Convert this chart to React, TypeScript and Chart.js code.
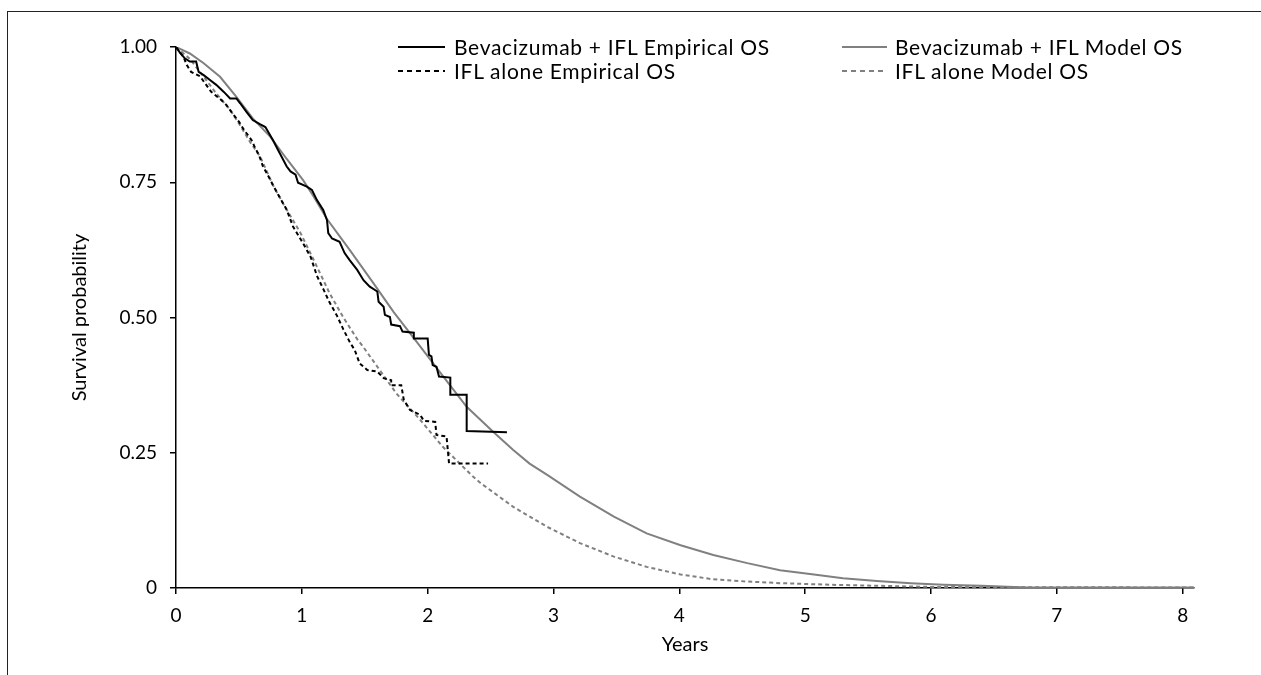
import React, { useEffect, useRef } from "react";
import { Chart, registerables } from "chart.js";

Chart.register(...registerables);

const FONT = "Lato, 'Open Sans', sans-serif";
const FONT_SIZE = 19;
const TITLE_SIZE = 20;
const LEGEND_SIZE = 21;

// Axis ticks
const xTicks = [0, 1, 2, 3, 4, 5, 6, 7, 8];
const yTicks = [0, 0.25, 0.5, 0.75, 1];
const yTickLabels = ["0", "0.25", "0.50", "0.75", "1.00"];
const xMax = 8.09;

// Series labels
const seriesLabels = [
  "Bevacizumab + IFL Empirical OS",
  "IFL alone Empirical OS",
  "Bevacizumab + IFL Model OS",
  "IFL alone Model OS",
];

// Bevacizumab + IFL empirical OS (years, survival)
const bevEmpT = [0, 0.03, 0.07, 0.11, 0.16, 0.18, 0.22, 0.27, 0.32, 0.38, 0.43, 0.48, 0.51, 0.56, 0.61, 0.67, 0.71, 0.77, 0.81, 0.88, 0.91, 0.95, 0.97, 1.04, 1.08, 1.12, 1.17, 1.2, 1.21, 1.24, 1.3, 1.34, 1.38, 1.44, 1.49, 1.54, 1.6, 1.61, 1.65, 1.66, 1.7, 1.71, 1.78, 1.8, 1.89, 1.89, 2.0, 2.01, 2.03, 2.04, 2.07, 2.09, 2.18, 2.18, 2.31, 2.31, 2.63];
const bevEmpS = [1, 0.99, 0.979, 0.973, 0.973, 0.954, 0.948, 0.939, 0.93, 0.917, 0.905, 0.905, 0.896, 0.88, 0.865, 0.857, 0.852, 0.828, 0.81, 0.779, 0.77, 0.764, 0.749, 0.742, 0.736, 0.717, 0.699, 0.68, 0.656, 0.646, 0.64, 0.619, 0.606, 0.588, 0.569, 0.557, 0.548, 0.529, 0.52, 0.505, 0.501, 0.487, 0.484, 0.474, 0.472, 0.461, 0.461, 0.431, 0.428, 0.412, 0.409, 0.391, 0.389, 0.357, 0.357, 0.29, 0.288];

// IFL alone empirical OS
const iflEmpT = [0, 0.03, 0.06, 0.085, 0.12, 0.19, 0.24, 0.28, 0.35, 0.4, 0.44, 0.5, 0.54, 0.6, 0.63, 0.66, 0.69, 0.73, 0.77, 0.81, 0.88, 0.93, 1.01, 1.07, 1.12, 1.17, 1.22, 1.28, 1.33, 1.38, 1.42, 1.46, 1.52, 1.6, 1.65, 1.71, 1.71, 1.79, 1.81, 1.86, 1.94, 1.97, 2.06, 2.07, 2.15, 2.17, 2.48];
const iflEmpS = [1, 0.99, 0.982, 0.967, 0.954, 0.946, 0.93, 0.917, 0.904, 0.893, 0.88, 0.862, 0.847, 0.828, 0.813, 0.8, 0.78, 0.763, 0.745, 0.728, 0.699, 0.668, 0.637, 0.612, 0.577, 0.553, 0.528, 0.503, 0.478, 0.455, 0.44, 0.415, 0.403, 0.4, 0.388, 0.384, 0.375, 0.375, 0.348, 0.329, 0.32, 0.309, 0.307, 0.283, 0.28, 0.23, 0.23];

// Bevacizumab + IFL model OS
const bevModT = [0, 0.11, 0.22, 0.35, 0.48, 0.61, 0.75, 0.88, 1.01, 1.09, 1.2, 1.38, 1.57, 1.73, 1.89, 2.1, 2.31, 2.52, 2.68, 2.81, 2.95, 3.21, 3.48, 3.74, 4.01, 4.27, 4.54, 4.8, 5.07, 5.3, 5.57, 5.84, 6.1, 6.4, 6.66, 6.78, 8.09];
const bevModS = [1, 0.988, 0.97, 0.945, 0.908, 0.868, 0.834, 0.793, 0.754, 0.725, 0.682, 0.625, 0.563, 0.51, 0.462, 0.398, 0.335, 0.289, 0.255, 0.23, 0.209, 0.169, 0.132, 0.101, 0.079, 0.061, 0.046, 0.033, 0.025, 0.018, 0.013, 0.009, 0.006, 0.004, 0.002, 0.001, 0.001];

// IFL alone model OS
const iflModT = [0, 0.11, 0.23, 0.32, 0.43, 0.51, 0.59, 0.67, 0.77, 0.85, 0.99, 1.12, 1.22, 1.33, 1.44, 1.49, 1.6, 1.75, 1.94, 2.12, 2.36, 2.42, 2.68, 2.95, 3.21, 3.48, 3.74, 4.01, 4.27, 4.54, 4.8, 5.2, 5.6, 6.0, 6.5, 8.09];
const iflModS = [1, 0.978, 0.942, 0.914, 0.884, 0.855, 0.824, 0.797, 0.745, 0.711, 0.656, 0.594, 0.545, 0.5, 0.46, 0.445, 0.409, 0.36, 0.311, 0.261, 0.206, 0.194, 0.15, 0.113, 0.083, 0.058, 0.039, 0.025, 0.016, 0.012, 0.009, 0.006, 0.004, 0.002, 0.0015, 0.001];

const toPts = (t: number[], s: number[]) => t.map((v, i) => ({ x: v, y: s[i] }));

const BLACK = "#000000";
const GRAY = "#808080";

export default function App() {
  const ref = useRef<HTMLCanvasElement | null>(null);

  useEffect(() => {
    if (!ref.current) return;
    const chart = new Chart(ref.current, {
      type: "line",
      data: {
        datasets: [
          {
            label: seriesLabels[0],
            data: toPts(bevEmpT, bevEmpS),
            borderColor: BLACK,
            borderWidth: 2,
            pointRadius: 0,
            tension: 0,
          },
          {
            label: seriesLabels[1],
            data: toPts(iflEmpT, iflEmpS),
            borderColor: BLACK,
            borderWidth: 2,
            borderDash: [4, 3],
            pointRadius: 0,
            tension: 0,
          },
          {
            label: seriesLabels[2],
            data: toPts(bevModT, bevModS),
            borderColor: GRAY,
            borderWidth: 2,
            pointRadius: 0,
            tension: 0,
          },
          {
            label: seriesLabels[3],
            data: toPts(iflModT, iflModS),
            borderColor: GRAY,
            borderWidth: 2,
            borderDash: [4, 3],
            pointRadius: 0,
            tension: 0,
          },
        ],
      },
      options: {
        responsive: false,
        animation: false,
        devicePixelRatio: 1,
        layout: { padding: { top: 47, right: 67, left: 0, bottom: 0 } },
        plugins: { legend: { display: false }, tooltip: { enabled: false } },
        scales: {
          x: {
            type: "linear",
            min: 0,
            max: xMax,
            afterFit: (s: any) => {
              s.height = 87;
            },
            afterBuildTicks: (s: any) => {
              s.ticks = xTicks.map((v) => ({ value: v }));
            },
            grid: {
              display: true,
              drawOnChartArea: false,
              drawTicks: true,
              tickLength: 6,
              color: BLACK,
              lineWidth: 1.5,
            },
            border: { display: true, color: BLACK, width: 1.5 },
            ticks: {
              color: BLACK,
              padding: 10,
              font: { family: FONT, size: FONT_SIZE },
              callback: (v: any) => String(v),
              maxRotation: 0,
            },
            title: {
              display: true,
              text: "Years",
              color: BLACK,
              font: { family: FONT, size: TITLE_SIZE },
              padding: { top: 0, bottom: 18 },
            },
          },
          y: {
            type: "linear",
            min: 0,
            max: 1,
            afterFit: (s: any) => {
              s.width = 176;
            },
            afterBuildTicks: (s: any) => {
              s.ticks = yTicks.map((v) => ({ value: v }));
            },
            grid: {
              display: true,
              drawOnChartArea: false,
              drawTicks: true,
              tickLength: 6,
              color: BLACK,
              lineWidth: 1.5,
            },
            border: { display: true, color: BLACK, width: 1.5 },
            ticks: {
              color: BLACK,
              padding: 13,
              font: { family: FONT, size: FONT_SIZE },
              callback: (v: any) => {
                const i = yTicks.indexOf(Number(v));
                return i >= 0 ? yTickLabels[i] : "";
              },
            },
            title: {
              display: true,
              text: "Survival probability",
              color: BLACK,
              font: { family: FONT, size: TITLE_SIZE },
              padding: { top: 68, bottom: 0 },
            },
          },
        },
      },
    });
    return () => chart.destroy();
  }, []);

  const legendText: React.CSSProperties = {
    position: "absolute",
    fontFamily: FONT,
    fontSize: LEGEND_SIZE,
    letterSpacing: "0.7px",
    color: "#000",
    lineHeight: "24px",
    whiteSpace: "nowrap",
  };

  const rows = [
    { sx: 398, ex: 445, tx: 454, y: 47, color: BLACK, dash: undefined as string | undefined, label: seriesLabels[0] },
    { sx: 398, ex: 445, tx: 454, y: 71, color: BLACK, dash: "5 4", label: seriesLabels[1] },
    { sx: 842, ex: 887, tx: 895, y: 47, color: GRAY, dash: undefined, label: seriesLabels[2] },
    { sx: 842, ex: 887, tx: 895, y: 71, color: GRAY, dash: "5 4", label: seriesLabels[3] },
  ];

  return (
    <div style={{ position: "absolute", left: 0, top: 0, width: 1261, height: 675, background: "#fff", overflow: "hidden" }}>
      <div
        style={{
          position: "absolute",
          left: 7,
          top: 11,
          width: 1261,
          height: 700,
          borderTop: "1.5px solid #222",
          borderLeft: "1.5px solid #222",
        }}
      />
      <canvas ref={ref} width={1261} height={675} style={{ position: "absolute", left: 0, top: 0, width: 1261, height: 675 }} />
      <svg width={1261} height={675} style={{ position: "absolute", left: 0, top: 0, pointerEvents: "none" }}>
        {rows.map((r, i) => (
          <line key={i} x1={r.sx} x2={r.ex} y1={r.y} y2={r.y} stroke={r.color} strokeWidth={2} strokeDasharray={r.dash} />
        ))}
      </svg>
      {rows.map((r, i) => (
        <div key={i} style={{ ...legendText, left: r.tx, top: r.y - 12 }}>
          {r.label}
        </div>
      ))}
    </div>
  );
}
